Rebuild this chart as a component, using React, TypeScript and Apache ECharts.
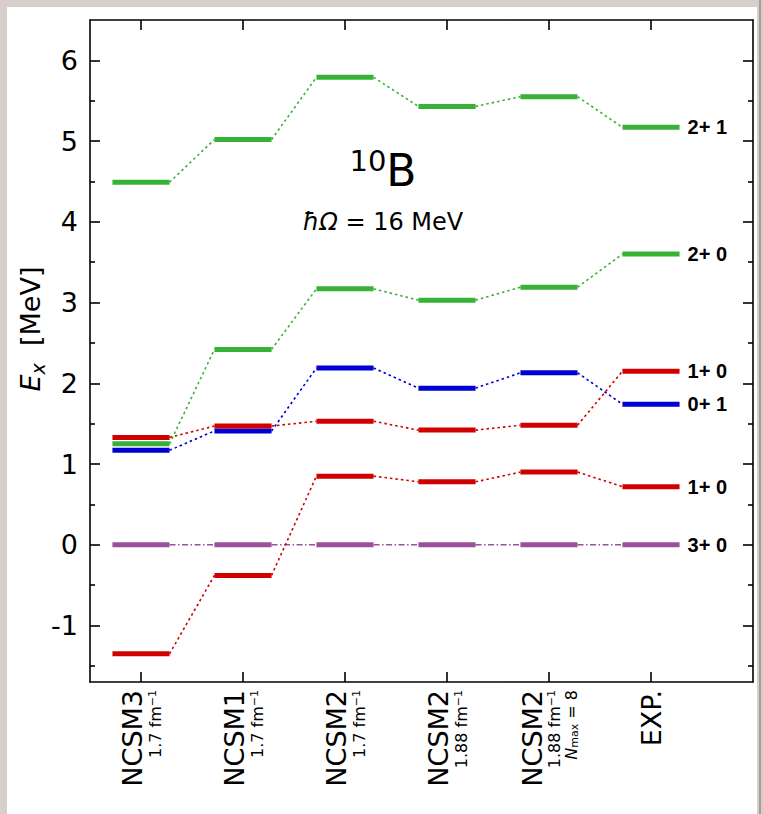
import React, { useEffect, useRef } from "react";
import * as echarts from "echarts";

// ---- data ----
const categories = ["NCSM3", "NCSM1", "NCSM2", "NCSM2", "NCSM2", "EXP."];
const cutoffs = ["1.7", "1.7", "1.7", "1.88", "1.88", ""];
const nmaxNote = ["", "", "", "", "8", ""];
const yTickLabels = [-1, 0, 1, 2, 3, 4, 5, 6];
const yMinorTicks = [-1.5, -0.5, 0.5, 1.5, 2.5, 3.5, 4.5, 5.5];

const level30 = [0, 0, 0, 0, 0, 0];
const level21 = [4.49, 5.02, 5.79, 5.43, 5.55, 5.17];
const level20 = [1.25, 2.42, 3.17, 3.03, 3.19, 3.6];
const level01 = [1.17, 1.41, 2.19, 1.94, 2.13, 1.74];
const level10a = [1.33, 1.47, 1.53, 1.42, 1.48, 2.15];
const level10b = [-1.35, -0.38, 0.85, 0.78, 0.9, 0.72];

const label30 = "3+ 0";
const label21 = "2+ 1";
const label20 = "2+ 0";
const label01 = "0+ 1";
const label10a = "1+ 0";
const label10b = "1+ 0";

const RED = "#d00000";
const GREEN = "#36b236";
const BLUE = "#0000d0";
const PURPLE = "#9a509a";
const FONT = "DejaVu Sans";
const HALF = 0.28;

function levelSeries(values: number[], color: string, dash: number[], label: string) {
  return {
    type: "custom",
    xAxisIndex: 0,
    yAxisIndex: 0,
    clip: false,
    data: values.map((v, i) => [i, v]),
    renderItem: (params: any, api: any) => {
      const i = api.value(0);
      const v = api.value(1);
      const a = api.coord([i - HALF, v]);
      const b = api.coord([i + HALF, v]);
      const children: any[] = [];
      if (i < values.length - 1) {
        const c = api.coord([i + 1 - HALF, values[i + 1]]);
        children.push({
          type: "line",
          shape: { x1: b[0], y1: b[1], x2: c[0], y2: c[1] },
          style: { stroke: color, lineWidth: 1.6, lineDash: dash, fill: null },
        });
      }
      children.push({
        type: "line",
        shape: { x1: a[0], y1: a[1], x2: b[0], y2: b[1] },
        style: { stroke: color, lineWidth: 5, lineCap: "butt", fill: null },
      });
      if (i === values.length - 1) {
        children.push({
          type: "text",
          x: b[0] + 8,
          y: b[1],
          style: {
            text: label,
            fontSize: 20,
            fontWeight: "bold",
            fontFamily: "Liberation Sans",
            fill: "#000",
            align: "left",
            verticalAlign: "middle",
          },
        });
      }
      return { type: "group", children };
    },
  };
}

function xLabel(value: number) {
  const i = Math.round(value);
  let s = "{a|" + categories[i] + "}";
  if (cutoffs[i]) s += "\n{b|" + cutoffs[i] + " fm}{s|−1}";
  if (nmaxNote[i]) s += "\n{i|N}{m|max}{b| = " + nmaxNote[i] + "}";
  return s;
}

const catValues = categories.map((_, i) => i);
const axisLineStyle = { color: "#000", width: 1.6 };

function yAxisDef(position: string, major: boolean, showLine: boolean, showLabel: boolean) {
  return {
    type: "value",
    position,
    min: -1.7,
    max: 6.5,
    splitLine: { show: false },
    axisLine: { show: showLine, onZero: false, lineStyle: axisLineStyle },
    axisTick: {
      show: true,
      inside: true,
      length: major ? 10 : 5,
      customValues: major ? yTickLabels : yMinorTicks,
      lineStyle: axisLineStyle,
    },
    axisLabel: showLabel
      ? {
          show: true,
          customValues: yTickLabels,
          margin: 12,
          fontSize: 27,
          fontFamily: FONT,
          color: "#000",
          formatter: (v: number) => String(v),
        }
      : { show: false },
  };
}

export default function App() {
  const ref = useRef<HTMLDivElement>(null);
  useEffect(() => {
    if (!ref.current) return;
    const chart = echarts.init(ref.current, undefined, { renderer: "svg" });
    const option: any = {
      animation: false,
      backgroundColor: "transparent",
      grid: { left: 90, right: 10, top: 20, bottom: 132, containLabel: false },
      xAxis: [
        {
          type: "value",
          position: "bottom",
          min: -0.5,
          max: 6,
          splitLine: { show: false },
          axisLine: { show: true, onZero: false, lineStyle: axisLineStyle },
          axisTick: { show: true, inside: true, length: 10, customValues: catValues, lineStyle: axisLineStyle },
          axisLabel: {
            show: true,
            customValues: catValues,
            rotate: 90,
            margin: 8,
            formatter: xLabel,
            color: "#000",
            fontFamily: FONT,
            rich: {
              a: { fontSize: 27, fontFamily: FONT, color: "#000", lineHeight: 28 },
              b: { fontSize: 16, fontFamily: FONT, color: "#000", lineHeight: 17 },
              s: { fontSize: 11, fontFamily: FONT, color: "#000", verticalAlign: "top", lineHeight: 17 },
              i: { fontSize: 16, fontFamily: FONT, color: "#000", fontStyle: "italic", lineHeight: 17 },
              m: { fontSize: 11, fontFamily: FONT, color: "#000", verticalAlign: "bottom", lineHeight: 17 },
            },
          },
        },
        {
          type: "value",
          position: "top",
          min: -0.5,
          max: 6,
          splitLine: { show: false },
          axisLine: { show: true, onZero: false, lineStyle: axisLineStyle },
          axisTick: { show: true, inside: true, length: 10, customValues: catValues, lineStyle: axisLineStyle },
          axisLabel: { show: false },
        },
      ],
      yAxis: [
        yAxisDef("left", true, true, true),
        yAxisDef("left", false, false, false),
        yAxisDef("right", true, true, false),
        yAxisDef("right", false, false, false),
      ],
      graphic: [
        {
          type: "text",
          x: 30,
          y: 329,
          rotation: Math.PI / 2,
          style: {
            text: "{e|E}{x|x}{n|  [MeV]}",
            align: "center",
            verticalAlign: "middle",
            rich: {
              e: { fontSize: 27, fontFamily: FONT, fontStyle: "italic", fill: "#000", lineHeight: 34 },
              x: { fontSize: 19, fontFamily: FONT, fontStyle: "italic", fill: "#000", verticalAlign: "bottom", lineHeight: 34 },
              n: { fontSize: 27, fontFamily: FONT, fill: "#000", lineHeight: 34 },
            },
          },
        },
        {
          type: "text",
          x: 383,
          y: 170,
          style: {
            text: "{sup|10}{big|B}",
            align: "center",
            verticalAlign: "middle",
            rich: {
              sup: { fontSize: 29, fontFamily: FONT, fill: "#000", verticalAlign: "top", lineHeight: 48 },
              big: { fontSize: 44, fontFamily: FONT, fill: "#000", lineHeight: 48 },
            },
          },
        },
        {
          type: "text",
          x: 383,
          y: 222,
          style: {
            text: "{it|ħΩ}{n| = 16 MeV}",
            align: "center",
            verticalAlign: "middle",
            rich: {
              it: { fontSize: 24, fontFamily: FONT, fontStyle: "italic", fill: "#000" },
              n: { fontSize: 24, fontFamily: FONT, fill: "#000" },
            },
          },
        },
      ],
      series: [
        levelSeries(level30, PURPLE, [6, 2.5, 1.5, 2.5], label30),
        levelSeries(level21, GREEN, [2.5, 3], label21),
        levelSeries(level20, GREEN, [2.5, 3], label20),
        levelSeries(level01, BLUE, [2.5, 3], label01),
        levelSeries(level10a, RED, [2.5, 3], label10a),
        levelSeries(level10b, RED, [2.5, 3], label10b),
      ],
    };
    chart.setOption(option);
    return () => chart.dispose();
  }, []);

  return (
    <div style={{ position: "fixed", left: 0, top: 0, width: 763, height: 814, background: "#d6cfcb", overflow: "hidden" }}>
      <div style={{ position: "absolute", left: 7, top: 7, width: 750, height: 807, background: "#ffffff" }} />
      <div style={{ position: "absolute", left: 759, top: 0, width: 2, height: 814, background: "#a39e9a" }} />
      <div ref={ref} style={{ position: "absolute", left: 0, top: 0, width: 763, height: 814 }} />
    </div>
  );
}
